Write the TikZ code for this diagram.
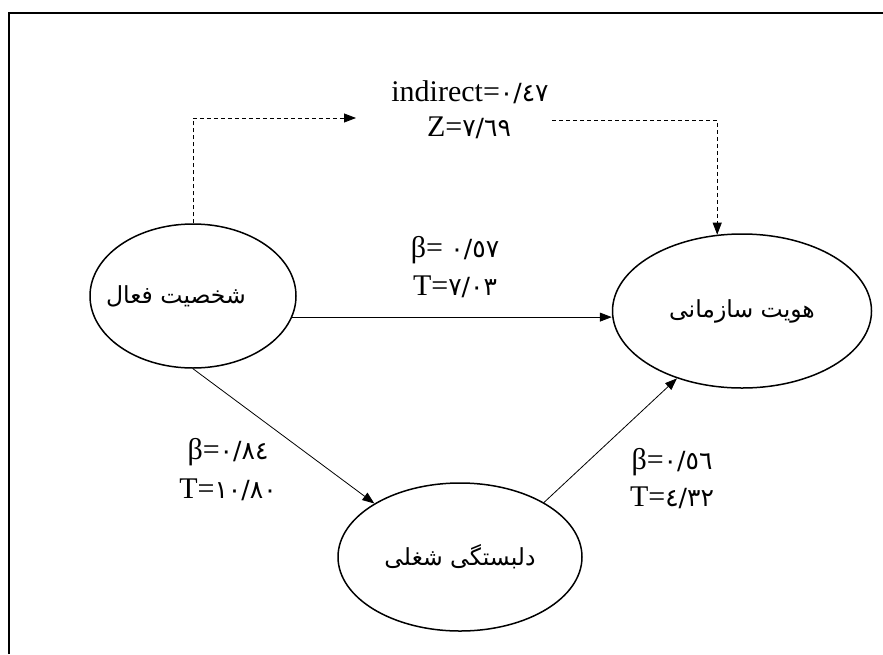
\documentclass[tikz,border=0pt]{standalone}
\usepackage{fontspec}
\setmainfont{Liberation Serif}
\newfontfamily\arabicfont[Script=Arabic]{DejaVu Sans}
\newfontfamily\digfont{DejaVu Sans}
\TeXXeTstate=1
\usetikzlibrary{shapes.geometric,arrows.meta}
\newcommand{\fa}[1]{\raisebox{-5pt}{\arabicfont\fontsize{23.5}{28}\selectfont\beginR #1\endR}}
\newcommand{\dg}[1]{{\digfont\fontsize{25}{30}\selectfont #1}}
\tikzset{
  oval/.style={ellipse, draw, line width=1.5pt, inner sep=0pt},
  arr/.style={line width=0.8pt, -{Triangle[length=12pt,width=9pt]}},
  dasharr/.style={line width=0.8pt, dash pattern=on 4pt off 3pt, -{Triangle[length=12pt,width=9pt]}},
  lbl/.style={inner sep=0pt, align=center}
}
\begin{document}
\begin{tikzpicture}[x=1pt,y=-1pt,font=\fontsize{30}{34}\selectfont]
\useasboundingbox (0,0) rectangle (883,654);
% frame
\draw[line width=2pt] (9,654) -- (9,13) -- (883,13);
% ellipses
\node[oval, minimum width=206pt, minimum height=144pt] (L) at (193,296) {\makebox[0pt]{\kern-34pt\fa{شخصیت فعال}}};
\node[oval, minimum width=259pt, minimum height=154pt] (R) at (742,311) {\fa{هویت سازمانی}};
\node[oval, minimum width=244pt, minimum height=148pt] (D) at (460,557) {\fa{دلبستگی شغلی}};
% labels
\node[lbl] (ind) at (470,92) {indirect=\dg{٠/٤٧}};
\node[lbl] (z) at (469,128) {Z=\dg{٧/٦٩}};
\node[lbl] (b1) at (455,250) {β= \dg{٠/٥٧}};
\node[lbl] (t1) at (455,287) {T=\dg{٧/٠٣}};
\node[lbl] (b2) at (228,452) {β=\dg{٠/٨٤}};
\node[lbl] (t2) at (228,490) {T=\dg{١٠/٨٠}};
\node[lbl] (b3) at (672,462) {β=\dg{٠/٥٦}};
\node[lbl] (t3) at (672,498) {T=\dg{٤/٣٢}};
% connectors
\coordinate (d1) at (356,118);
\coordinate (d2) at (552,120);
\draw[dasharr] (L.north) |- (d1);
\draw[dasharr] (d2) -| (R.108);
\draw[arr] (L.-12) -- (L.-12 -| R.west);
\draw[arr] (L.south) -- (D.148);
\draw[arr] (D.33) -- (R.226);
\end{tikzpicture}
\end{document}
